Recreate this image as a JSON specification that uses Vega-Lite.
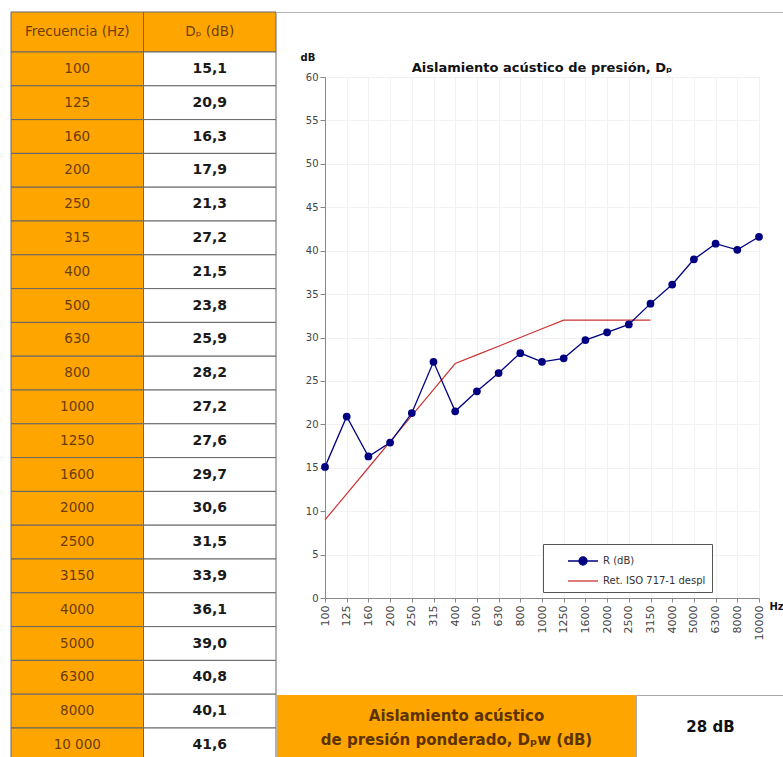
{
  "$schema": "https://vega.github.io/schema/vega-lite/v6.json",
  "padding": {"left": 10, "top": 11, "right": 0, "bottom": 0},
  "autosize": {"type": "pad"},
  "background": "white",
  "config": {
    "view": {"stroke": null},
    "font": "DejaVu Sans",
    "locale": {"number": {"decimal": ",", "thousands": ".", "grouping": [3], "currency": ["", " €"]}}
  },
  "datasets": {
    "datos": [
      {"hz": 100, "dp": 15.1, "ref": 9},
      {"hz": 125, "dp": 20.9, "ref": 12},
      {"hz": 160, "dp": 16.3, "ref": 15},
      {"hz": 200, "dp": 17.9, "ref": 18},
      {"hz": 250, "dp": 21.3, "ref": 21},
      {"hz": 315, "dp": 27.2, "ref": 24},
      {"hz": 400, "dp": 21.5, "ref": 27},
      {"hz": 500, "dp": 23.8, "ref": 28},
      {"hz": 630, "dp": 25.9, "ref": 29},
      {"hz": 800, "dp": 28.2, "ref": 30},
      {"hz": 1000, "dp": 27.2, "ref": 31},
      {"hz": 1250, "dp": 27.6, "ref": 32},
      {"hz": 1600, "dp": 29.7, "ref": 32},
      {"hz": 2000, "dp": 30.6, "ref": 32},
      {"hz": 2500, "dp": 31.5, "ref": 32},
      {"hz": 3150, "dp": 33.9, "ref": 32},
      {"hz": 4000, "dp": 36.1},
      {"hz": 5000, "dp": 39.0},
      {"hz": 6300, "dp": 40.8},
      {"hz": 8000, "dp": 40.1},
      {"hz": 10000, "dp": 41.6}
    ],
    "encabezado": [
      {"col": "hz", "titulo": "Frecuencia (Hz)"},
      {"col": "dp", "titulo": "Dₚ (dB)"}
    ],
    "resumen": [
      {"etiqueta": "Aislamiento acústico\nde presión ponderado, Dₚw (dB)", "valor": "28 dB"}
    ]
  },
  "spacing": 0,
  "hconcat": [
    {
      "bounds": "flush",
      "spacing": 0,
      "vconcat": [
        {
          "width": 265,
          "height": 40,
          "data": {"name": "encabezado"},
          "encoding": {
            "x": {"field": "col", "type": "nominal", "scale": {"domain": ["hz", "dp"], "paddingInner": 0, "paddingOuter": 0}, "axis": null}
          },
          "layer": [
            {"mark": {"type": "rect", "fill": "#FFA500", "stroke": "#666666", "strokeWidth": 1}},
            {"mark": {"type": "text", "fontSize": 13.5, "color": "#6b3d0a"}, "encoding": {"text": {"field": "titulo"}}}
          ]
        },
        {
          "width": 265,
          "height": 709.8,
          "data": {"name": "datos"},
          "encoding": {
            "y": {"field": "hz", "type": "ordinal", "scale": {"paddingInner": 0, "paddingOuter": 0}, "axis": null}
          },
          "layer": [
            {
              "transform": [{"fold": ["hz", "dp"], "as": ["col", "valor"]}],
              "mark": {"type": "rect", "stroke": "#666666", "strokeWidth": 1},
              "encoding": {
                "x": {"field": "col", "type": "nominal", "scale": {"domain": ["hz", "dp"], "paddingInner": 0, "paddingOuter": 0}, "axis": null},
                "fill": {"field": "col", "type": "nominal", "scale": {"domain": ["hz", "dp"], "range": ["#FFA500", "#FFFFFF"]}, "legend": null}
              }
            },
            {
              "mark": {"type": "text", "fontSize": 13.5, "color": "#6b3d0a"},
              "encoding": {
                "x": {"datum": "hz", "type": "nominal"},
                "text": {"condition": {"test": "datum.hz === 10000", "value": "10 000"}, "field": "hz", "type": "nominal"}
              }
            },
            {
              "mark": {"type": "text", "fontSize": 14, "fontWeight": "bold", "color": "#1a1a1a"},
              "encoding": {
                "x": {"datum": "dp", "type": "nominal"},
                "text": {"field": "dp", "type": "quantitative", "format": ".1f"}
              }
            }
          ]
        }
      ]
    },
    {
      "spacing": 0,
      "vconcat": [
        {
          "bounds": "flush",
          "align": "each",
          "columns": 2,
          "spacing": {"row": 64, "column": 0},
          "concat": [
            {
              "width": 48,
              "height": 1,
              "view": {"fill": "#b4b4b4", "stroke": null},
              "data": {"values": []},
              "mark": "point"
            },
            {
              "width": 460,
              "height": 1,
              "view": {"fill": "#b4b4b4", "stroke": null},
              "data": {"values": []},
              "mark": "point"
            },
            {
              "width": 48,
              "height": 617,
              "view": {"fill": "white", "stroke": null},
              "data": {"values": []},
              "mark": "point"
            },
            {
              "width": 434,
              "height": 521,
              "view": {"stroke": "#b0b0b0"},
              "title": {"text": "Aislamiento acústico de presión, Dₚ", "fontSize": 13, "fontWeight": "bold", "font": "DejaVu Sans", "color": "#111111", "frame": "group", "baseline": "alphabetic", "offset": 6, "dy": 39},
              "data": {"name": "datos"},
              "encoding": {
                "x": {
                  "field": "hz",
                  "type": "ordinal",
                  "scale": {"type": "point", "padding": 0},
                  "axis": {
                    "labelAngle": -90,
                    "labelFontSize": 11,
                    "labelColor": "#444444",
                    "labelPadding": 3,
                    "title": "Hz",
                    "titleX": 444,
                    "titleY": 8,
                    "titleAngle": 0,
                    "titleAlign": "left",
                    "titleBaseline": "middle",
                    "titleFontWeight": "bold",
                    "titleFontSize": 10,
                    "titleColor": "#111111",
                    "tickSize": 4,
                    "tickColor": "#888888",
                    "domainColor": "#888888",
                    "gridColor": "#f2f2f2",
                    "grid": true
                  }
                }
              },
              "layer": [
                {
                  "mark": {"type": "line", "strokeWidth": 1.2},
                  "encoding": {
                    "y": {
                      "field": "ref",
                      "type": "quantitative",
                      "title": "dB",
                      "scale": {"domain": [0, 60], "nice": false},
                      "axis": {
                        "values": [0, 5, 10, 15, 20, 25, 30, 35, 40, 45, 50, 55, 60],
                        "titleAngle": 0,
                        "titleX": -25,
                        "titleY": -17,
                        "titleAlign": "left",
                        "titleBaseline": "alphabetic",
                        "titleFontWeight": "bold",
                        "titleFontSize": 10,
                        "titleColor": "#111111",
                        "labelFontSize": 10,
                        "labelColor": "#444444",
                        "labelPadding": 2,
                        "tickSize": 5,
                        "tickColor": "#888888",
                        "domainColor": "#888888",
                        "gridColor": "#f2f2f2"
                      }
                    },
                    "color": {
                      "datum": "Ret. ISO 717-1 despl",
                      "type": "nominal",
                      "scale": {"domain": ["R (dB)", "Ret. ISO 717-1 despl"], "range": ["#000080", "#CC3333"]},
                      "legend": {
                        "orient": "none",
                        "legendX": 532,
                        "legendY": 532,
                        "title": null,
                        "fillColor": "white",
                        "strokeColor": "#555555",
                        "padding": 6,
                        "symbolSize": 400,
                        "symbolType": "M-1.5,0L1.5,0",
                        "symbolStrokeWidth": 1.5,
                        "symbolOffset": 23,
                        "labelOffset": 9,
                        "labelFontSize": 10,
                        "labelFont": "DejaVu Sans",
                        "labelColor": "#333333",
                        "labelLimit": 300,
                        "rowPadding": 2,
                        "encode": {
                          "symbols": {
                            "update": {
                              "shape": {"signal": "datum.value === 'R (dB)' ? 'M-1.5,0L1.5,0M-0.4,0A0.4,0.4,0,1,1,0.4,0A0.4,0.4,0,1,1,-0.4,0' : 'M-1.5,0L1.5,0'"},
                              "fill": {"signal": "datum.value === 'R (dB)' ? '#000080' : 'transparent'"},
                              "stroke": {"signal": "datum.value === 'R (dB)' ? '#000080' : '#CC3333'"},
                              "strokeWidth": {"value": 1.3}
                            }
                          },
                          "labels": {
                            "update": {
                              "text": {"signal": "datum.label + '\u2003\u2003'"}
                            }
                          }
                        }
                      }
                    }
                  }
                },
                {
                  "mark": {"type": "line", "strokeWidth": 1.3},
                  "encoding": {
                    "y": {"field": "dp", "type": "quantitative", "title": "dB"},
                    "color": {"datum": "R (dB)", "type": "nominal"}
                  }
                },
                {
                  "mark": {"type": "point", "filled": true, "size": 60, "opacity": 1},
                  "encoding": {
                    "y": {"field": "dp", "type": "quantitative", "title": "dB"},
                    "color": {"datum": "R (dB)", "type": "nominal"}
                  }
                }
              ]
            }
          ]
        },
        {
          "bounds": "flush",
          "spacing": 0,
          "hconcat": [
            {
              "width": 359,
              "height": 64,
              "view": {"fill": "#FFA500", "stroke": null},
              "data": {"name": "resumen"},
              "mark": {"type": "text", "lineBreak": "\n", "lineHeight": 24, "fontSize": 15, "fontWeight": "bold", "color": "#5c3300", "baseline": "middle", "align": "center", "dy": -11},
              "encoding": {"text": {"field": "etiqueta"}}
            },
            {
              "width": 149,
              "height": 64,
              "view": {"fill": "white", "stroke": "#aaaaaa"},
              "data": {"name": "resumen"},
              "mark": {"type": "text", "fontSize": 15, "fontWeight": "bold", "color": "#111111", "baseline": "middle", "align": "center"},
              "encoding": {"text": {"field": "valor"}}
            }
          ]
        }
      ]
    }
  ]
}
